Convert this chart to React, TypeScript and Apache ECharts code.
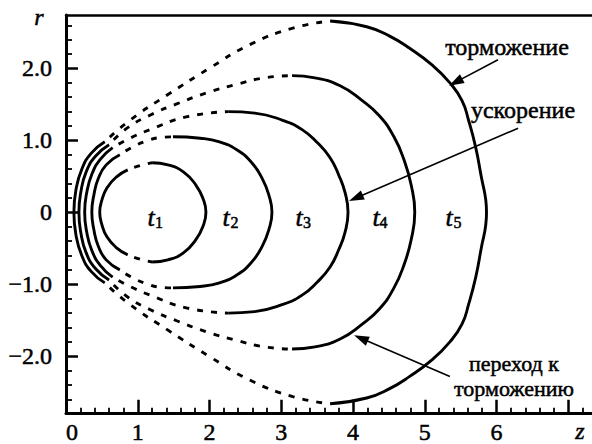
import React, { useEffect, useRef } from "react";
import * as echarts from "echarts";

const FONT = "Times New Roman";

// Axis ticks / labels
const X_TICKS = [0, 1, 2, 3, 4, 5, 6];
const X_MAJOR = [0, 1, 2, 3, 4, 5, 6, 7];
const Y_TICKS = [-2, -1, 0, 1, 2];
const Y_MINOR = [-2.6, -2.4, -2.2, -1.8, -1.6, -1.4, -1.2, -0.8, -0.6, -0.4, -0.2, 0.2, 0.4, 0.6, 0.8, 1.2, 1.4, 1.6, 1.8, 2.2, 2.4, 2.6];
const X_MINOR: number[] = [];
for (let i = 1; i <= 36; i++) if (i % 5 !== 0) X_MINOR.push(i / 5);

// Upper halves of the fronts t1..t5 (z, r); the lower halves are their mirror images.
// Left solid arc: from the axis (r = 0) to its upper end
const T1_LEFT = [[0.47, 0], [0.5, 0.17], [0.57, 0.34], [0.7, 0.49], [0.86, 0.59]];
const T2_LEFT = [[0.36, 0], [0.39, 0.25], [0.45, 0.47], [0.56, 0.66], [0.75, 0.8]];
const T3_LEFT = [[0.26, 0], [0.29, 0.28], [0.36, 0.53], [0.48, 0.74], [0.65, 0.9]];
const T4_LEFT = [[0.18, 0], [0.21, 0.3], [0.28, 0.56], [0.41, 0.78], [0.6, 0.94]];
const T5_LEFT = [[0.11, 0], [0.14, 0.32], [0.22, 0.6], [0.35, 0.82], [0.54, 0.98]];

// Dashed part: from the left arc to the top of the front
const T1_DASH = [[0.86, 0.59], [1.03, 0.65], [1.2, 0.69]];
const T2_DASH = [[0.75, 0.8], [0.93, 0.91], [1.12, 0.99], [1.31, 1.04], [1.49, 1.05]];
const T3_DASH = [[0.65, 0.9], [0.85, 1.01], [1.17, 1.15], [1.69, 1.33], [2.26, 1.4]];
const T4_DASH = [[0.6, 0.94], [0.85, 1.17], [1.17, 1.35], [1.55, 1.51], [1.96, 1.66], [2.38, 1.78], [2.77, 1.87], [3.15, 1.9]];
const T5_DASH = [[0.54, 0.98], [0.89, 1.28], [1.41, 1.63], [2.01, 2.01], [2.56, 2.33], [3.16, 2.56], [3.68, 2.66]];

// Right solid part: from the top down to the axis
const T1_RIGHT = [[1.2, 0.69], [1.42, 0.66], [1.64, 0.56], [1.81, 0.38], [1.91, 0.19], [1.95, 0]];
const T2_RIGHT = [[1.49, 1.05], [1.87, 1.03], [2.14, 0.98], [2.38, 0.87], [2.58, 0.7], [2.73, 0.48], [2.83, 0.23], [2.87, 0]];
const T3_RIGHT = [[2.26, 1.4], [2.63, 1.38], [3.02, 1.28], [3.29, 1.15], [3.5, 0.97], [3.68, 0.76], [3.8, 0.52], [3.89, 0.27], [3.93, 0]];
const T4_RIGHT = [[3.15, 1.9], [3.47, 1.87], [3.82, 1.76], [4.12, 1.56], [4.37, 1.34], [4.57, 1.05], [4.71, 0.73], [4.81, 0.38], [4.86, 0]];
const T5_RIGHT = [[3.68, 2.66], [4.19, 2.58], [4.51, 2.45], [4.79, 2.28], [5.1, 2.05], [5.35, 1.8], [5.52, 1.55], [5.61, 1.28], [5.71, 0.9], [5.79, 0.48], [5.85, 0.17], [5.86, 0]];

const FRONTS = [
  { left: T1_LEFT, dash: T1_DASH, right: T1_RIGHT },
  { left: T2_LEFT, dash: T2_DASH, right: T2_RIGHT },
  { left: T3_LEFT, dash: T3_DASH, right: T3_RIGHT },
  { left: T4_LEFT, dash: T4_DASH, right: T4_RIGHT },
  { left: T5_LEFT, dash: T5_DASH, right: T5_RIGHT },
];

const FRONT_NAMES = ["1", "2", "3", "4", "5"];

// Arrow annotations: [from, to] in (z, r)
const ARROWS = [
  [[6.02, 2.12], [5.43, 1.81]],
  [[6.3, 1.17], [4.04, 0.2]],
  [[5.35, -2.28], [4.11, -1.75]],
];

const X_MAX = 7.33;
const Y_MIN = -2.785;
const Y_MAX = 2.743;

const mirror = (pts: number[][]) => pts.map(([z, r]) => [z, -r]);

function buildSeries() {
  const series: any[] = [];
  const solidStyle = { color: "#000", width: 2.9, type: "solid", cap: "butt" };
  const dashStyle = { color: "#000", width: 2.9, type: [6, 8], dashOffset: 7, cap: "butt" };
  const base = {
    type: "line",
    symbol: "none",
    showSymbol: false,
    silent: true,
    smooth: 0.5,
    xAxisIndex: 0,
    yAxisIndex: 0,
    emphasis: { disabled: true },
  };
  FRONTS.forEach((f, i) => {
    const leftFull = [...mirror(f.left).slice(1).reverse(), ...f.left];
    const rightFull = [...f.right, ...mirror(f.right).slice(0, -1).reverse()];
    series.push({ ...base, name: "left" + i, data: leftFull, lineStyle: solidStyle });
    series.push({ ...base, name: "right" + i, data: rightFull, lineStyle: solidStyle });
    series.push({ ...base, name: "dashU" + i, data: f.dash, lineStyle: dashStyle });
    series.push({ ...base, name: "dashL" + i, data: mirror(f.dash), lineStyle: dashStyle });
  });
  series[series.length - 3].markLine = {
    silent: true,
    animation: false,
    symbol: ["none", "triangle"],
    symbolSize: [10, 15],
    label: { show: false },
    emphasis: { disabled: true },
    lineStyle: { color: "#000", width: 1.6, type: "solid" },
    data: ARROWS.map(([a, b]) => [{ coord: a }, { coord: b }]),
  };
  return series;
}

// Positions of the t labels (pixels)
const T_POS = [
  [151, 159],
  [226, 234.5],
  [299, 307],
  [376, 383.5],
  [449, 457.5],
];

export default function App() {
  const ref = useRef<HTMLDivElement>(null);
  useEffect(() => {
    if (!ref.current) return;
    const chart = echarts.init(ref.current, null, { renderer: "svg" });
    const labelStyle = { color: "#000", fontFamily: FONT, fontSize: 24, textBorderColor: "#000", textBorderWidth: 0.5 };
    const txt = (x: number, y: number, text: string, size: number, italic = false) => ({
      type: "text",
      x,
      y,
      silent: true,
      style: {
        text,
        fontFamily: FONT,
        fontSize: size,
        fontStyle: italic ? "italic" : "normal",
        fill: "#000",
        stroke: "#000",
        lineWidth: 0.5,
        align: "center",
        verticalAlign: "middle",
      },
    });
    const graphic: any[] = [
      txt(39, 17, "r", 24, true),
      txt(580, 431, "z", 24, true),
      txt(507, 47, "торможение", 24),
      txt(523, 110, "ускорение", 24),
      txt(514, 363.5, "переход к", 22),
      txt(514, 388.5, "торможению", 22),
    ];
    FRONT_NAMES.forEach((n, i) => {
      graphic.push(txt(T_POS[i][0], 217, "t", 26, true));
      graphic.push(txt(T_POS[i][1], 222, n, 16));
    });

    const hiddenX = {
      type: "value",
      min: 0,
      max: X_MAX,
      axisLabel: { show: false },
      splitLine: { show: false },
    };

    chart.setOption({
      animation: false,
      backgroundColor: "#fff",
      grid: { left: 66, right: 0, top: 15, bottom: 31 },
      xAxis: [
        {
          ...hiddenX,
          position: "bottom",
          axisLine: { show: true, onZero: false, lineStyle: { color: "#000", width: 3 } },
          axisTick: { show: true, inside: true, length: 13, customValues: X_MAJOR, lineStyle: { color: "#000", width: 2.5 } },
          axisLabel: {
            show: true,
            customValues: X_TICKS,
            margin: 7,
            ...labelStyle,
            formatter: (v: number) => (v === 0 ? "{zero|0}" : String(v)),
            rich: { zero: { ...labelStyle, padding: [0, 0, 0, 12] } },
          },
        },
        {
          ...hiddenX,
          position: "top",
          axisLine: { show: true, onZero: false, lineStyle: { color: "#000", width: 2.5 } },
          axisTick: { show: false },
        },
        {
          ...hiddenX,
          position: "bottom",
          axisLine: { show: false, onZero: false },
          axisTick: { show: true, inside: true, length: 5, customValues: X_MINOR, lineStyle: { color: "#000", width: 1.8 } },
        },
      ],
      yAxis: [
        {
          type: "value",
          min: Y_MIN,
          max: Y_MAX,
          position: "left",
          axisLine: { show: true, onZero: false, lineStyle: { color: "#000", width: 3 } },
          axisTick: { show: true, inside: true, length: 6, customValues: Y_MINOR, lineStyle: { color: "#000", width: 1.8 } },
          axisLabel: {
            show: true,
            customValues: Y_TICKS,
            margin: 14,
            ...labelStyle,
            formatter: (v: number) => (v === 0 ? "0" : (v < 0 ? "\u2212" : "") + Math.abs(v).toFixed(1)),
          },
          splitLine: { show: false },
        },
        {
          type: "value",
          min: Y_MIN,
          max: Y_MAX,
          position: "left",
          axisLine: { show: false, onZero: false },
          axisTick: { show: true, inside: true, length: 12, customValues: Y_TICKS, lineStyle: { color: "#000", width: 2.5 } },
          axisLabel: { show: false },
          splitLine: { show: false },
        },
      ],
      series: buildSeries(),
      graphic,
    });
    return () => chart.dispose();
  }, []);
  return <div ref={ref} style={{ position: "fixed", left: 0, top: 0, width: 592, height: 444, background: "#fff" }} />;
}
